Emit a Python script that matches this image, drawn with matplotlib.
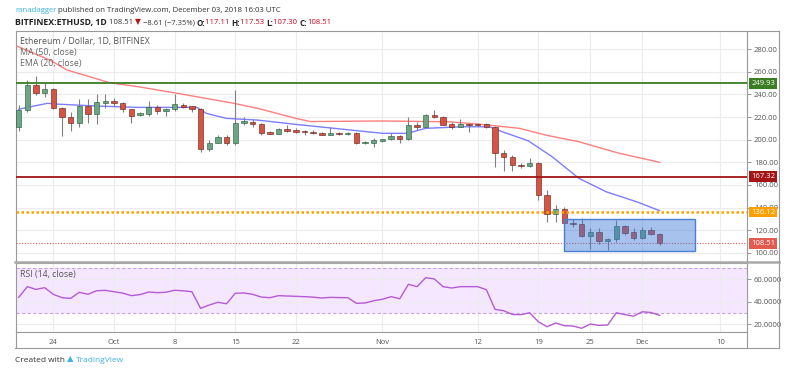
import pandas as pd
import matplotlib
matplotlib.use("Agg")
import matplotlib.pyplot as plt
import matplotlib.dates as mdates
from matplotlib.patches import Rectangle
from matplotlib.lines import Line2D

# ETH/USD daily candles, Sep 20 - Dec 3 2018
opens = [211, 226, 248, 241.5, 245, 228, 219.7, 215, 230, 222.6,
         232.3, 234, 232.6, 226.8, 221.5, 222.6, 229, 225.6, 226.8, 231,
         229.7, 227.3, 191.5, 197.4, 202, 197.4, 215, 216, 213.8, 207,
         205.3, 209, 208.2, 207.6, 207, 205.9, 204.4, 206.2, 205, 206.2,
         196.8, 197.4, 198.8, 200.6, 203.2, 200.6, 213.2, 211.4, 221.7, 219.7,
         213.8, 211.4, 213.8, 213.8, 213.5, 210.9, 188, 185, 177.9, 176.5,
         179, 151, 134.4, 138.5, 126.7, 125.3, 115, 118.8, 110.5, 112,
         123.8, 118.8, 113.5, 120.2, 117.11]
highs = [231, 253, 256, 250, 246, 229, 224, 235.6, 236, 240,
         240, 236.5, 233, 227, 224.5, 234.4, 230.6, 228, 240, 232,
         230, 228, 199.7, 204, 204, 243.8, 219.7, 218, 215, 208,
         210, 213, 210, 208.5, 208.5, 206.8, 211, 207, 207, 207,
         199, 201.2, 201, 205.6, 204, 219.7, 215.6, 222.6, 226, 221,
         215.6, 218, 214.5, 214.4, 214.4, 212, 191, 186.4, 179, 183.5,
         180, 155.6, 142, 140.8, 129.6, 130.6, 121.8, 121.8, 113, 129,
         125, 121.8, 122.5, 122.6, 117.53]
lows = [208, 224, 239, 238, 227, 203.5, 208, 211, 215, 214,
        227.7, 229.7, 224.7, 215, 221, 221, 223, 221, 225, 228,
        224.7, 189, 190, 196.8, 195.3, 195, 213, 211, 204, 204.6,
        204.6, 206.5, 205.6, 203.8, 204.6, 203.8, 203.8, 204.1, 204.4, 195.9,
        196.3, 193.8, 198, 200, 197.4, 200, 208.5, 210.8, 218.8, 213,
        209, 210.8, 207, 212, 210, 176, 172, 172.6, 174.7, 175.5,
        147, 127.6, 127.6, 126, 122.6, 114.4, 103.3, 107.9, 102.6, 110,
        115.9, 111.4, 112, 116, 107.30]
closes = [226, 248, 241.5, 245, 228, 219.7, 215, 230, 222.6, 233,
          234, 232, 226.8, 221, 223.8, 229, 225.6, 227.3, 231.2, 229,
          227.3, 191.5, 197.4, 202, 197.4, 215, 216.2, 213.5, 206.2, 205.3,
          209, 207.6, 207, 206.5, 205.6, 204.4, 205.9, 204.7, 206.2, 196.8,
          198.2, 199.7, 200.3, 203.2, 200.6, 212.6, 211.4, 221.7, 219.7, 213.2,
          211.4, 213.8, 213.2, 212.9, 210.9, 188, 185, 177.6, 176.5, 179.4,
          151, 134.4, 138.5, 126.7, 125.3, 115, 118.8, 110.5, 112, 123.8,
          117.9, 113.5, 120.2, 117.11, 108.51]
rsi = [43.7, 53.2, 50.8, 52.3, 46.4, 43.4, 42.8, 48.2, 46.4, 49.6,
       49.9, 48.7, 47.5, 45.2, 46.1, 48.4, 47.9, 48.2, 50.0, 49.5,
       48.7, 33.9, 36.9, 39.3, 38.0, 47.3, 47.6, 46.4, 44.0, 43.4,
       45.2, 44.9, 44.6, 44.3, 43.9, 43.1, 43.7, 43.5, 43.4, 38.4,
       38.7, 40.7, 42.0, 44.3, 42.5, 55.3, 53.2, 61.2, 60.0, 53.2,
       52.0, 53.2, 53.2, 53.2, 50.5, 33.0, 31.8, 28.5, 28.3, 30.0,
       22.0, 17.6, 20.9, 18.5, 18.2, 16.2, 20.0, 18.8, 19.1, 30.0,
       28.3, 27.0, 30.9, 30.2, 27.7]
dates = pd.date_range("2018-09-20", periods=len(closes), freq="D")

# moving averages, read at a few dates
ma_dates = pd.to_datetime(["2018-09-19 16:00", "2018-09-23 14:00", "2018-09-25 14:00",
                           "2018-09-30 12:00", "2018-10-03 20:00", "2018-10-08 08:00",
                           "2018-10-14 20:00", "2018-10-17 14:00", "2018-10-22 00:00",
                           "2018-10-23 16:00", "2018-11-01 00:00", "2018-11-08 14:00",
                           "2018-11-12 00:00", "2018-11-16 20:00", "2018-11-19 20:00",
                           "2018-11-23 16:00", "2018-11-28 08:00", "2018-12-03 00:00"],
                          format="ISO8601")
ma50 = [283, 270.3, 261.5, 250.3, 246.7, 240.9, 232.1, 227.7, 218.8,
        216, 216.5, 215.8, 213.8, 210, 204.1, 198.2, 188, 180]
ema_dates = pd.to_datetime(["2018-09-20 00:00", "2018-09-21 00:00", "2018-09-23 08:00",
                            "2018-09-24 10:00", "2018-09-29 00:00", "2018-10-03 20:00",
                            "2018-10-10 14:00", "2018-10-11 16:00", "2018-10-14 00:00",
                            "2018-10-17 14:00", "2018-10-22 00:00", "2018-11-01 00:00",
                            "2018-11-03 20:00", "2018-11-06 00:00", "2018-11-10 04:00",
                            "2018-11-13 08:00", "2018-11-14 20:00", "2018-11-17 20:00",
                            "2018-11-20 14:00", "2018-11-23 16:00", "2018-11-26 20:00",
                            "2018-11-30 08:00", "2018-12-03 00:00"], format="ISO8601")
ema20 = [226.8, 228.5, 232.1, 231.4, 229.7, 228.5, 228.5, 223.2, 218.8,
         217.3, 213.5, 205.6, 205.6, 210, 211.4, 211.4, 207, 199, 185,
         165.9, 154, 145.2, 137.3]

levels = [249.93, 167.32, 136.12, 108.51]
level_colors = ["#3b7d23", "#a31515", "#ffa000", "#e35a4f"]
box_start, box_end = "2018-11-22", "2018-12-07"
box_low, box_high = 102, 129.7

price_ticks = [100, 120, 140, 160, 180, 200, 220, 240, 260, 280]
rsi_ticks = [20, 40, 60]
xtick_dates = ["2018-09-24", "2018-10-01", "2018-10-08", "2018-10-15", "2018-10-22",
               "2018-11-01", "2018-11-12", "2018-11-19", "2018-11-25", "2018-12-01",
               "2018-12-10"]
xtick_labels = ["24", "Oct", "8", "15", "22", "Nov", "12", "19", "25", "Dec", "10"]

plt.rcParams["font.family"] = ["Open Sans", "DejaVu Sans"]
W, H = 800, 374
fig = plt.figure(figsize=(8, 3.74), dpi=100)


def fx(x):
    return x / W


def fy(y):
    return 1 - y / H


ax = fig.add_axes([fx(16), fy(262), fx(747) - fx(16), fy(30.7) - fy(262)])
ax_r = fig.add_axes([fx(16), fy(332), fx(747) - fx(16), fy(262.7) - fy(332)], sharex=ax)

x = mdates.date2num(dates)
x0 = mdates.date2num(pd.Timestamp("2018-09-20")) - 0.31
x1 = x0 + 84.4
grid_c = "#ececec"
up_c, dn_c = "#6ba583", "#d75442"
for xi, o, h, l, c in zip(x, opens, highs, lows, closes):
    col = up_c if c >= o else dn_c
    edge = "#225437" if c >= o else "#5b1a13"
    ax.vlines(xi, l, h, color="#808080", lw=0.8, zorder=3)
    ax.bar(xi, max(abs(c - o), 0.7), bottom=min(o, c), width=0.62,
           color=col, edgecolor=edge, lw=0.4, zorder=4)

ax.plot(mdates.date2num(ma_dates), ma50, color="#ff7070", lw=1.0, alpha=0.9, zorder=2)
ax.plot(mdates.date2num(ema_dates), ema20, color="#6f6fff", lw=1.0, alpha=0.9, zorder=2)

styles = [dict(ls="-", lw=1.3), dict(ls="-", lw=1.3), dict(ls=(0, (1, 1)), lw=1.8),
          dict(ls=(0, (1, 1.5)), lw=0.8)]
for lv, col, st in zip(levels, level_colors, styles):
    ax.axhline(lv, color=col, zorder=5, **st)

bx0 = mdates.date2num(pd.Timestamp(box_start))
bx1 = mdates.date2num(pd.Timestamp(box_end)) + 0.06
ax.add_patch(Rectangle((bx0, box_low), bx1 - bx0, box_high - box_low,
                       facecolor="#3c78d8", alpha=0.45, edgecolor="none", zorder=6))
ax.add_patch(Rectangle((bx0, box_low), bx1 - bx0, box_high - box_low,
                       facecolor="none", edgecolor="#4a7fd6", lw=1, zorder=6))

ax.set_xlim(x0, x1)
ax.set_ylim(92, 296.2)
ax.yaxis.tick_right()
ax.set_yticks(price_ticks)
ax.set_yticklabels([f"{v:.2f}" for v in price_ticks])
ax.set_xticks(mdates.date2num(pd.to_datetime(xtick_dates)))
ax.tick_params(axis="x", length=0, labelbottom=False)
ax.tick_params(axis="y", length=3, width=0.6, color="#888", labelsize=5.5,
               labelcolor="#555", pad=2)
ax.grid(True, color=grid_c, lw=0.8, zorder=0)

for lv, col in zip(levels, level_colors):
    ax.text(1.006, lv, f"{lv:.2f}", transform=ax.get_yaxis_transform(),
            ha="left", va="center", fontsize=5.5, color="white", zorder=10,
            bbox=dict(boxstyle="square,pad=0.25", fc=col, ec="none"), clip_on=False)

ax.text(0.006, 0.955, "Ethereum / Dollar, 1D, BITFINEX", transform=ax.transAxes,
        fontsize=6.3, color="#555", ha="left", va="center")
ax.text(0.006, 0.907, "MA (50, close)", transform=ax.transAxes,
        fontsize=6.3, color="#666", ha="left", va="center")
ax.text(0.006, 0.86, "EMA (20, close)", transform=ax.transAxes,
        fontsize=6.3, color="#666", ha="left", va="center")

# RSI panel
ax_r.axhspan(30, 70, color="#9915ff", alpha=0.1, lw=0, zorder=1)
ax_r.axhline(70, color="#c6a3e6", lw=0.8, ls=(0, (3, 2)), zorder=2)
ax_r.axhline(30, color="#c6a3e6", lw=0.8, ls=(0, (3, 2)), zorder=2)
ax_r.plot(x, rsi, color="#b55bd6", lw=1.0, zorder=3)
ax_r.set_ylim(12.9, 74.5)
ax_r.yaxis.tick_right()
ax_r.set_yticks(rsi_ticks)
ax_r.set_yticklabels([f"{v:.4f}" for v in rsi_ticks])
ax_r.set_xticks(mdates.date2num(pd.to_datetime(xtick_dates)))
ax_r.set_xticklabels(xtick_labels)
ax_r.tick_params(axis="x", length=0, labelsize=5.5, labelcolor="#555", pad=5)
ax_r.tick_params(axis="y", length=3, width=0.6, color="#888", labelsize=5.5,
                 labelcolor="#555", pad=2)
ax_r.grid(True, color=grid_c, lw=0.8, zorder=0)
ax_r.text(0.006, 0.83, "RSI (14, close)", transform=ax_r.transAxes,
          fontsize=6.3, color="#555", ha="left", va="center")

for a in (ax, ax_r):
    for s in a.spines.values():
        s.set_color("#999")
        s.set_linewidth(0.8)

# frame lines
fig.add_artist(Line2D([fx(15), fx(779)], [fy(262), fy(262)], color="#aaa", lw=1.8))
fig.add_artist(Line2D([fx(779), fx(779)], [fy(30.7), fy(348)], color="#999", lw=0.8))
fig.add_artist(Line2D([fx(747), fx(747)], [fy(332), fy(348)], color="#999", lw=0.8))
fig.add_artist(Line2D([fx(15), fx(779)], [fy(348), fy(348)], color="#999", lw=0.8))
fig.add_artist(Line2D([fx(747), fx(779)], [fy(30.7), fy(30.7)], color="#999", lw=0.8))
fig.add_artist(Line2D([fx(15.5), fx(15.5)], [fy(332), fy(348)], color="#999", lw=0.8))

# header lines, segments laid out one after another
fig.canvas.draw()
rend = fig.canvas.get_renderer()


def line_of(parts, x, y):
    for txt, col, weight, size in parts:
        t = fig.text(fx(x), fy(y), txt, fontsize=size, color=col, weight=weight,
                     ha="left", va="center")
        x = t.get_window_extent(rend).x1 * W / fig.bbox.width


line_of([("ranadagger", "#3bb3e4", "normal", 5.6),
         (" published on TradingView.com, December 03, 2018 16:03 UTC", "#333", "normal", 5.6)],
        15, 11)
line_of([("BITFINEX:ETHUSD, 1D", "#222", "bold", 6.3), (" 108.51 ", "#333", "normal", 5.5),
         ("▼", "#c0101b", "normal", 5.5), (" −8.61 (−7.35%) ", "#333", "normal", 5.5),
         ("O:", "#222", "bold", 5.8), ("117.11 ", "#d0021b", "normal", 5.5),
         ("H:", "#222", "bold", 5.8), ("117.53 ", "#d0021b", "normal", 5.5),
         ("L:", "#222", "bold", 5.8), ("107.30 ", "#d0021b", "normal", 5.5),
         ("C:", "#222", "bold", 5.8), ("108.51", "#d0021b", "normal", 5.5)],
        15, 23)
line_of([("Created with ", "#333", "normal", 6.0), ("▲ ", "#3bb3e4", "normal", 6.0),
         ("TradingView", "#3bb3e4", "normal", 6.0)], 15, 360)

fig.savefig("out.png", dpi=100)
